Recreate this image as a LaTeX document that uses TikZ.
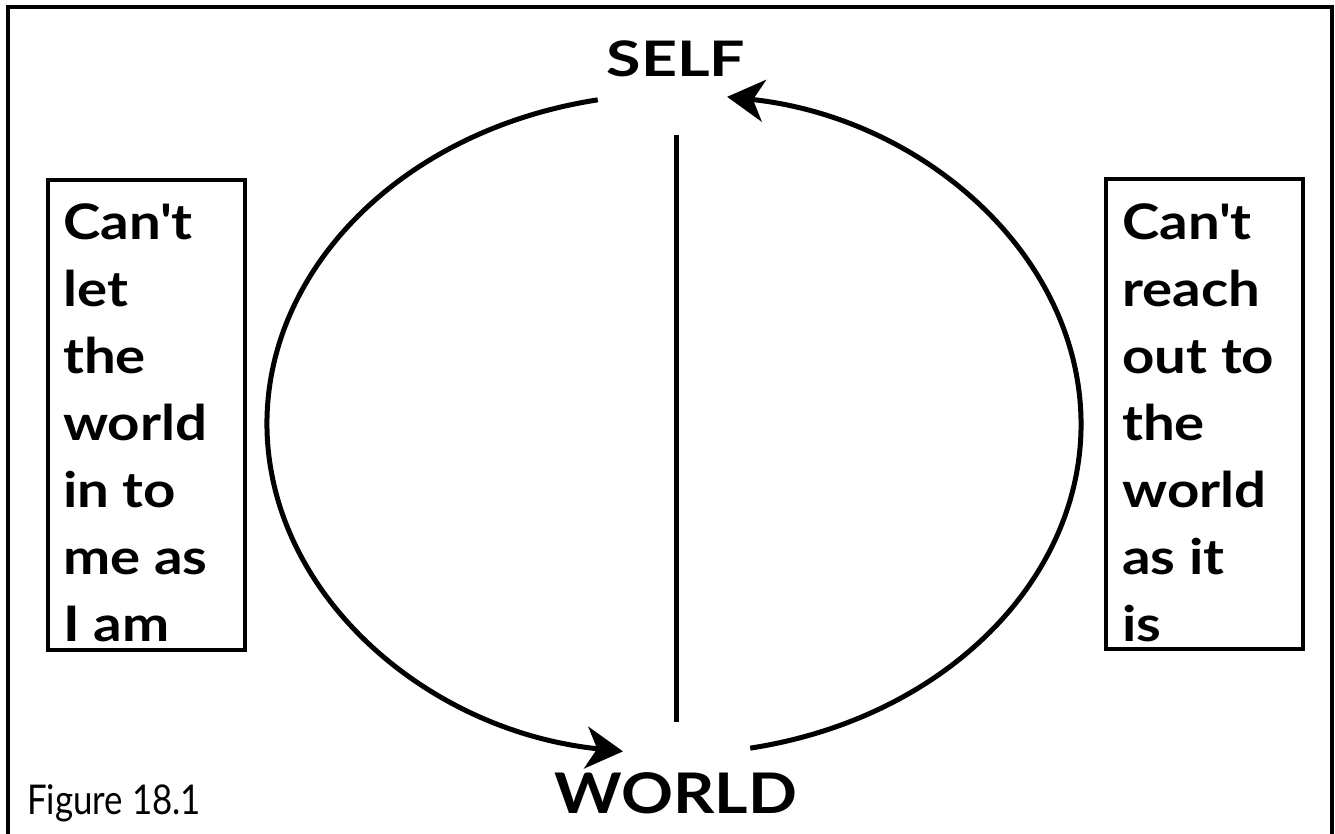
\documentclass[tikz,border=0pt]{standalone}
\usepackage{fontspec}
\setmainfont{Lato}
\newfontfamily\gillb[FakeStretch=1.15]{Lato}
\newfontfamily\gillself[FakeStretch=1.28]{Lato}
\newfontfamily\gilllight[FakeStretch=0.85]{Lato}
\usetikzlibrary{arrows.meta}
\begin{document}
\begin{tikzpicture}[x=1pt,y=1pt,
  ring/.style={line width=5pt},
  tipend/.style={-{Stealth[length=37pt,width=42pt,inset=11pt]}},
  boxframe/.style={draw, line width=4pt, minimum width=197pt, minimum height=470pt, inner sep=0pt, anchor=north west},
  boxtext/.style={anchor=north west, inner sep=0pt, align=left,
    font=\gillb\bfseries\fontsize{49pt}{67pt}\selectfont},
  label/.style={inner sep=0pt, anchor=base}
]
\useasboundingbox (0,0) rectangle (1335,834);
% outer frame (open at the bottom)
\draw[line width=4.5pt] (8,-5) -- (8,827) -- (1332,827) -- (1332,-5);

% centre of the cycle
\coordinate (c) at (674,410);
\path (c) ++(-79.2:407 and 330) coordinate (wr);
\path (c) ++(100.8:407 and 330) coordinate (sl);

% labels
\node[label, font=\gillself\bfseries\fontsize{49pt}{49pt}\selectfont] (self) at (676,757) {SELF};
\node[label, font=\gillb\bfseries\fontsize{56pt}{56pt}\selectfont] (world) at (676,20) {WORLD};
\node[inner sep=0pt, anchor=base west, font=\gilllight\fontsize{41pt}{41pt}\selectfont] (fig) at (27,19) {Figure 18.1};

% arcs
\draw[ring, tipend] (wr) arc[start angle=-79.2, end angle=82.5, x radius=407, y radius=330];
\draw[ring, tipend] (sl) arc[start angle=100.8, end angle=262.8, x radius=407, y radius=330];

% vertical divider
\coordinate (vtop) at (676,699);
\coordinate (vbot) at (676,112);
\draw[line width=5pt] (vtop) -- (vbot);

% boxes
\node[boxframe] (lbox) at (46,656) {};
\node[boxframe] (rbox) at (1104,657) {};
\node[boxtext] (ltext) at (63,631) {Can\textquotesingle t\\let\\the\\world\\in to\\me as\\I am};
\node[boxtext] (rtext) at (1122,631) {Can\textquotesingle t\\reach\\out to\\the\\world\\as it\\is};
\end{tikzpicture}
\end{document}
